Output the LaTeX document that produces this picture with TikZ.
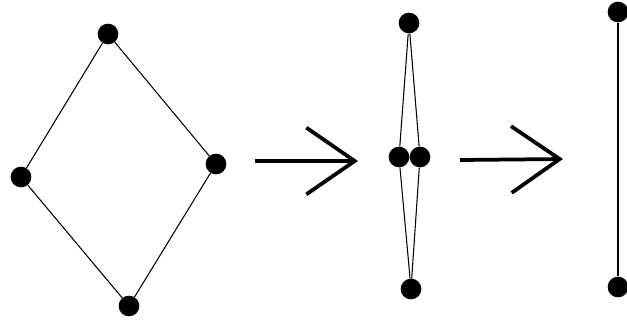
\documentclass[tikz,border=0pt]{standalone}
\usetikzlibrary{arrows.meta}

\begin{document}
\begin{tikzpicture}[
    x=0.03cm, y=-0.03cm,
    dot/.style={
        circle, fill=black, inner sep=0pt,
        minimum size=0.62cm
    },
    edge/.style={black, line width=0.9pt},
    bar/.style={black, line width=2.4pt},
    bigarrow/.style={-{Straight Barb[length=1.45cm, width=2cm]}, line width=3.2pt}
]
\useasboundingbox (0,0) rectangle (627,325);

% square
\node[dot] (top) at (108,34) {};
\node[dot] (left) at (21,177) {};
\node[dot] (right) at (216,164) {};
\node[dot] (bottom) at (129,306) {};

\draw[edge] (top) -- (left) -- (bottom) -- (right) -- (top);

% first step
\coordinate (a1) at (255,161);
\coordinate (b1) at (358,161);
\draw[bigarrow] (a1) -- (b1);

% squeezed
\node[dot] (mtop) at (409,23) {};
\node[dot] (mleft) at (399,157) {};
\node[dot] (mright) at (420,157) {};
\node[dot] (mbottom) at (411,289) {};

\draw[edge] (mtop) -- (mleft) -- (mbottom) -- (mright) -- (mtop);

% second step
\coordinate (a2) at (460,160);
\coordinate (b2) at (563,159);
\draw[bigarrow] (a2) -- (b2);

% segment
\node[dot] (ftop) at (618,12) {};
\node[dot] (fbottom) at (618,287) {};

\draw[bar] (ftop) -- (fbottom);

\end{tikzpicture}
\end{document}
